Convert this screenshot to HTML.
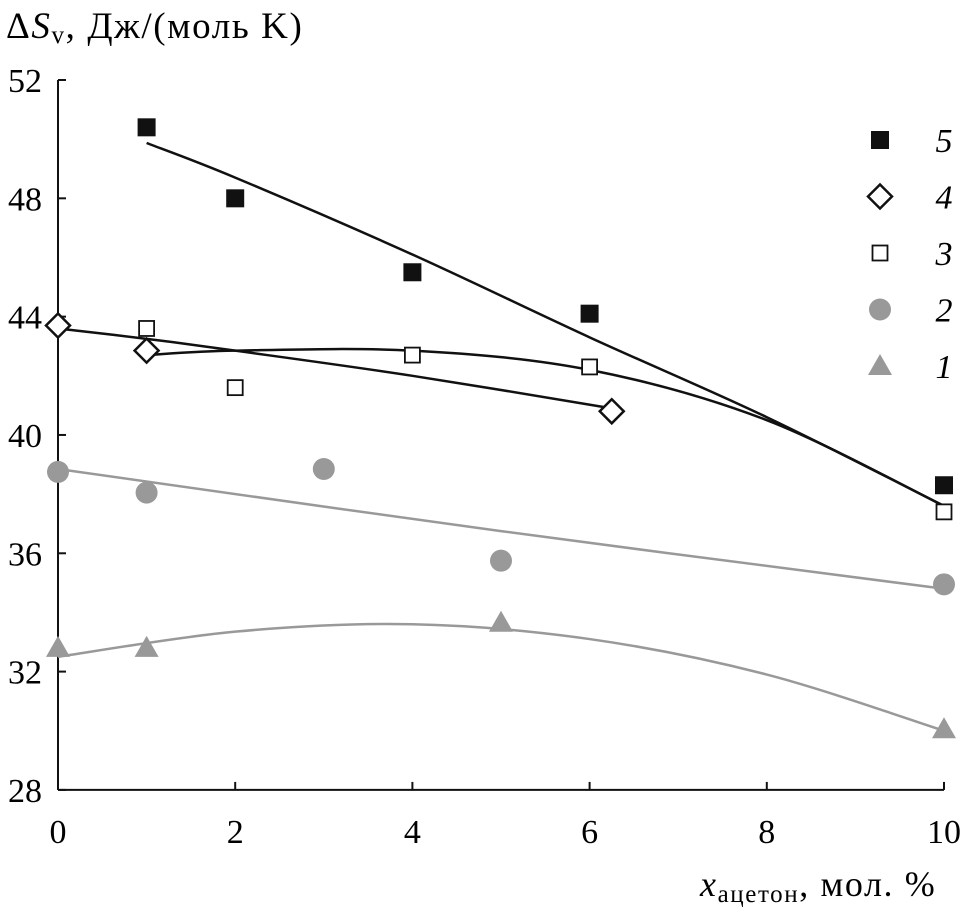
<!DOCTYPE html>
<html><head><meta charset="utf-8"><style>
body{margin:0;background:#fff}
svg{display:block;font-family:"Liberation Serif","DejaVu Serif",serif}
</style></head><body>
<svg id="c" width="963" height="912" viewBox="0 0 963 912">
<text x="6" y="38" font-size="37" letter-spacing="1.6">Δ<tspan font-style="italic">S</tspan><tspan font-size="25" dy="5">v</tspan><tspan dy="-5">, Дж/(моль K)</tspan></text>
<text x="700" y="896" font-size="36" letter-spacing="1.6"><tspan font-style="italic">x</tspan><tspan font-size="25" dy="6">ацетон</tspan><tspan dy="-6">, мол. %</tspan></text>
<g id="axes"></g><g id="fits"></g><g id="marks"></g><g id="legend"></g>
</svg>
<script>
const xTicks=[0,2,4,6,8,10];
const yTicks=[28,32,36,40,44,48,52];
const s5x=[1,2,4,6,10], s5y=[50.4,48.0,45.5,44.1,38.3];
const s4x=[0,1,6.25], s4y=[43.7,42.85,40.8];
const s3x=[1,2,4,6,10], s3y=[43.6,41.6,42.7,42.3,37.4];
const s2x=[0,1,3,5,10], s2y=[38.75,38.05,38.85,35.75,34.95];
const s1x=[0,1,5,10], s1y=[32.8,32.8,33.65,30.05];
const f5x=[1,2,4,6,8,10], f5y=[49.87,48.7,46.1,43.3,40.6,37.6];
const f4x=[0,1,2,4,6.25], f4y=[43.6,43.25,42.85,42.0,40.9];
const f3x=[1,2,4,6,8,10], f3y=[42.7,42.85,42.85,42.2,40.5,37.6];
const f2x=[0,5,10], f2y=[38.85,36.75,34.8];
const f1x=[0,2,4,6,8,10], f1y=[32.5,33.35,33.6,33.1,31.9,30.0];
const legendLabels=["5","4","3","2","1"];
const X=v=>58+v*88.6, Y=v=>80+(52-v)*29.58;
const NS="http://www.w3.org/2000/svg";
function mk(t,a,p){const e=document.createElementNS(NS,t);for(const k in a)e.setAttribute(k,a[k]);p.appendChild(e);return e;}
const ax=document.getElementById('axes');
let e=mk('line',{x1:X(0),y1:Y(52),x2:X(0),y2:Y(28),stroke:'#111','stroke-width':2},ax);

e=mk('line',{x1:X(0),y1:Y(28),x2:X(10),y2:Y(28),stroke:'#111','stroke-width':2},ax);

yTicks.forEach(t=>{mk('line',{x1:X(0),x2:X(0)+8,y1:Y(t),y2:Y(t),stroke:'#111','stroke-width':2},ax);
 const l=mk('text',{x:42,y:Y(t)+12,'font-size':34,'text-anchor':'end'},ax);l.textContent=t;
 });
xTicks.forEach(t=>{mk('line',{x1:X(t),x2:X(t),y1:Y(28),y2:Y(28)-8,stroke:'#111','stroke-width':2},ax);
 const l=mk('text',{x:X(t),y:843,'font-size':34,'text-anchor':'middle'},ax);l.textContent=t;
 });
function curve(xs,ys){const p=xs.map((x,i)=>[X(x),Y(ys[i])]);let d='M'+p[0];
 for(let i=0;i<p.length-1;i++){const a=p[i-1]||p[i],b=p[i],c=p[i+1],n=p[i+2]||c;
  d+=' C'+(b[0]+(c[0]-a[0])/6)+','+(b[1]+(c[1]-a[1])/6)+' '+(c[0]-(n[0]-b[0])/6)+','+(c[1]-(n[1]-b[1])/6)+' '+c[0]+','+c[1];}
 return d;}
const fg=document.getElementById('fits');
[[f5x,f5y,'#111','fit-5'],[f4x,f4y,'#111','fit-4'],[f3x,f3y,'#111','fit-3'],[f2x,f2y,'#999','fit-2'],[f1x,f1y,'#999','fit-1']].forEach(f=>{
 const p=mk('path',{d:curve(f[0],f[1]),fill:'none',stroke:f[2],'stroke-width':2.5},fg);
 });
function marker(type,cx,cy,g){let m;
 if(type==5)m=mk('rect',{x:cx-9,y:cy-9,width:18,height:18,fill:'#111'},g);
 if(type==4)m=mk('polygon',{points:`${cx},${cy-12} ${cx+12},${cy} ${cx},${cy+12} ${cx-12},${cy}`,fill:'#fff',stroke:'#111','stroke-width':2.5},g);
 if(type==3)m=mk('rect',{x:cx-7.5,y:cy-7.5,width:15,height:15,fill:'#fff',stroke:'#111','stroke-width':1.8},g);
 if(type==2)m=mk('circle',{cx:cx,cy:cy,r:11,fill:'#999'},g);
 if(type==1)m=mk('polygon',{points:`${cx},${cy-12} ${cx+12},${cy+9} ${cx-12},${cy+9}`,fill:'#999'},g);
 return m;}
const mg=document.getElementById('marks');
[[1,s1x,s1y],[2,s2x,s2y],[3,s3x,s3y],[4,s4x,s4y],[5,s5x,s5y]].forEach(s=>{
 s[1].forEach((x,i)=>{const m=marker(s[0],X(x),Y(s[2][i]),mg);
  });});
const lg=document.getElementById('legend');
legendLabels.forEach((l,i)=>{const y=140+i*56.5;
 const m=marker(+l,880,y,lg);
 const t=mk('text',{x:944,y:y+12,'font-size':34,'font-style':'italic','text-anchor':'middle'},lg);t.textContent=l;
 });
</script>
</body></html>
